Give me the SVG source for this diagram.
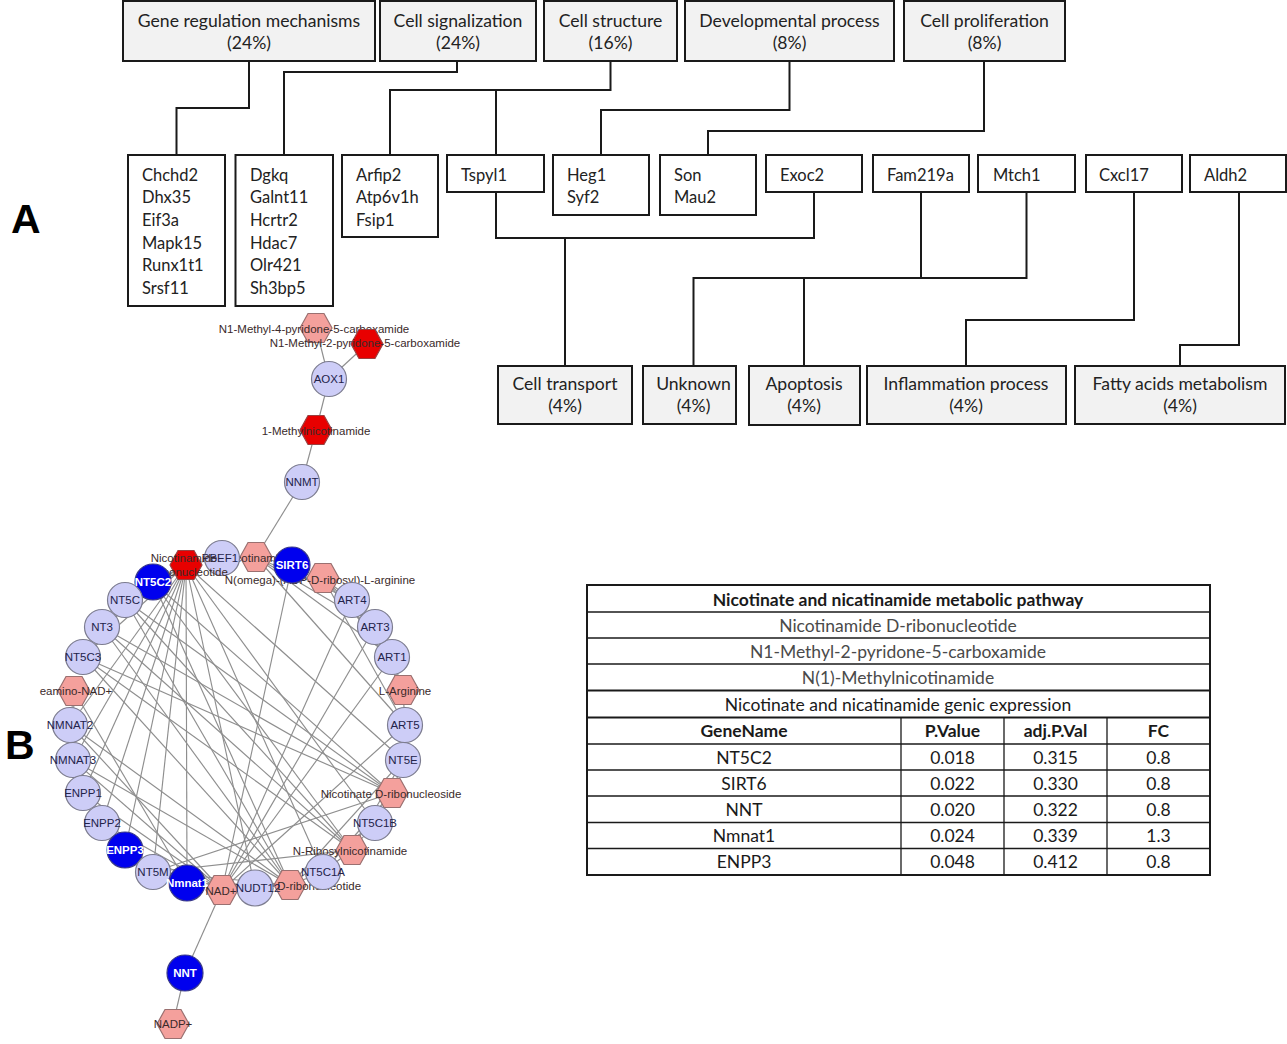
<svg xmlns="http://www.w3.org/2000/svg" xmlns:xlink="http://www.w3.org/1999/xlink" width="1287" height="1044" viewBox="0 0 1287 1044">
<style>
  .cat rect{fill:#f2f2f2;stroke:#1a1a1a;stroke-width:2}
  .gene rect{fill:#ffffff;stroke:#1a1a1a;stroke-width:2}
  .t{font-family:Lato,"Liberation Sans",sans-serif;font-size:16.5px;fill:#222}
  .cat .t{font-size:17.6px}
  .tm{text-anchor:middle}
  .tree path{fill:none;stroke:#1a1a1a;stroke-width:2}
  .panel{font-family:"Liberation Sans",Arial,sans-serif;font-weight:bold;font-size:41px;fill:#000}
  .edges line{stroke:#8e8e8e;stroke-width:1.15}
  .ce{fill:#cdcdf7;stroke:#7d7d90;stroke-width:1.2}
  .cb{fill:#0000ee;stroke:#3a3a8a;stroke-width:1.2}
  .hl{fill:#f4a09c;stroke:#9a7070;stroke-width:1.2}
  .hr{fill:#e80000;stroke:#9a4040;stroke-width:1.2}
  .nl{font-family:"Liberation Sans",Arial,sans-serif;font-size:11.5px;text-anchor:middle;fill:#23234a}
  .nw{font-family:"Liberation Sans",Arial,sans-serif;font-size:11.5px;text-anchor:middle;fill:#ffffff;font-weight:bold}
  .hlab{font-family:"Liberation Sans",Arial,sans-serif;font-size:11.5px;text-anchor:middle;fill:#3a2a2a}
  .tab line{stroke:#1a1a1a;stroke-width:1.3}
  .tab .thick{stroke-width:2}
  .tt{font-family:Lato,"Liberation Sans",sans-serif;font-size:17.5px;text-anchor:middle;fill:#1a1a1a}
  .tg{fill:#4a4a4a}
  .tb{font-weight:bold}
</style>
<defs>
  <polygon id="hex" points="-16,0 -8,-14.5 8,-14.5 16,0 8,14.5 -8,14.5"/>
</defs>

<!-- Panel labels -->
<text class="panel" x="11" y="233">A</text>
<text class="panel" x="5" y="759">B</text>

<!-- Panel A connectors -->
<g id="connectors-A" class="tree">
  <path d="M249,61 V108 H176.5 V155"/>
  <path d="M457,61 V72 H284 V155"/>
  <path d="M610.5,61 V90 H390 V155 M496,90 V155"/>
  <path d="M789.5,61 V110 H601 V155"/>
  <path d="M984,61 V131 H708 V155"/>
  <path d="M496,192 V238 H814 V192 M565,238 V366"/>
  <path d="M921,192 V278 M1026.5,192 V278 H693.5 V366 M804,278 V366"/>
  <path d="M1134,192 V320 H966 V366"/>
  <path d="M1239,192 V345 H1180 V366"/>
</g>

<!-- Category boxes -->
<g id="cat-gene-regulation" class="cat"><rect x="123" y="1" width="252" height="60"/><text class="t tm" x="249" y="21" dy="0.35em">Gene regulation mechanisms</text><text class="t tm" x="249" y="43" dy="0.35em">(24%)</text></g>
<g id="cat-cell-signalization" class="cat"><rect x="380" y="1" width="156" height="60"/><text class="t tm" x="458" y="21" dy="0.35em">Cell signalization</text><text class="t tm" x="458" y="43" dy="0.35em">(24%)</text></g>
<g id="cat-cell-structure" class="cat"><rect x="544" y="1" width="133" height="60"/><text class="t tm" x="610.5" y="21" dy="0.35em">Cell structure</text><text class="t tm" x="610.5" y="43" dy="0.35em">(16%)</text></g>
<g id="cat-developmental" class="cat"><rect x="685" y="1" width="209" height="60"/><text class="t tm" x="789.5" y="21" dy="0.35em">Developmental process</text><text class="t tm" x="789.5" y="43" dy="0.35em">(8%)</text></g>
<g id="cat-cell-proliferation" class="cat"><rect x="904" y="1" width="161" height="60"/><text class="t tm" x="984.5" y="21" dy="0.35em">Cell proliferation</text><text class="t tm" x="984.5" y="43" dy="0.35em">(8%)</text></g>

<!-- Gene boxes -->
<g id="genes-chchd2" class="gene"><rect x="128" y="155" width="97" height="151"/>
  <text class="t" x="142" y="175" dy="0.35em">Chchd2</text><text class="t" x="142" y="197.5" dy="0.35em">Dhx35</text><text class="t" x="142" y="220" dy="0.35em">Eif3a</text><text class="t" x="142" y="243" dy="0.35em">Mapk15</text><text class="t" x="142" y="265.5" dy="0.35em">Runx1t1</text><text class="t" x="142" y="288" dy="0.35em">Srsf11</text></g>
<g id="genes-dgkq" class="gene"><rect x="235.5" y="155" width="97.5" height="151"/>
  <text class="t" x="250" y="175" dy="0.35em">Dgkq</text><text class="t" x="250" y="197.5" dy="0.35em">Galnt11</text><text class="t" x="250" y="220" dy="0.35em">Hcrtr2</text><text class="t" x="250" y="243" dy="0.35em">Hdac7</text><text class="t" x="250" y="265.5" dy="0.35em">Olr421</text><text class="t" x="250" y="288" dy="0.35em">Sh3bp5</text></g>
<g id="genes-arfip2" class="gene"><rect x="342" y="155" width="96" height="82"/>
  <text class="t" x="356" y="175" dy="0.35em">Arfip2</text><text class="t" x="356" y="197.5" dy="0.35em">Atp6v1h</text><text class="t" x="356" y="220" dy="0.35em">Fsip1</text></g>
<g id="genes-tspyl1" class="gene"><rect x="447" y="155" width="97" height="37"/><text class="t" x="461" y="175" dy="0.35em">Tspyl1</text></g>
<g id="genes-heg1" class="gene"><rect x="553" y="155" width="96" height="60"/><text class="t" x="567" y="175" dy="0.35em">Heg1</text><text class="t" x="567" y="197.5" dy="0.35em">Syf2</text></g>
<g id="genes-son" class="gene"><rect x="660" y="155" width="96" height="60"/><text class="t" x="674" y="175" dy="0.35em">Son</text><text class="t" x="674" y="197.5" dy="0.35em">Mau2</text></g>
<g id="genes-exoc2" class="gene"><rect x="766" y="155" width="96" height="37"/><text class="t" x="780" y="175" dy="0.35em">Exoc2</text></g>
<g id="genes-fam219a" class="gene"><rect x="873" y="155" width="96" height="37"/><text class="t" x="887" y="175" dy="0.35em">Fam219a</text></g>
<g id="genes-mtch1" class="gene"><rect x="978" y="155" width="97" height="37"/><text class="t" x="993" y="175" dy="0.35em">Mtch1</text></g>
<g id="genes-cxcl17" class="gene"><rect x="1086" y="155" width="96" height="37"/><text class="t" x="1099" y="175" dy="0.35em">Cxcl17</text></g>
<g id="genes-aldh2" class="gene"><rect x="1190" y="155" width="96" height="37"/><text class="t" x="1204" y="175" dy="0.35em">Aldh2</text></g>

<!-- Bottom category boxes -->
<g id="cat-cell-transport" class="cat"><rect x="498" y="366" width="134" height="58"/><text class="t tm" x="565" y="384" dy="0.35em">Cell transport</text><text class="t tm" x="565" y="406" dy="0.35em">(4%)</text></g>
<g id="cat-unknown" class="cat"><rect x="643" y="366" width="93" height="58"/><text class="t tm" x="693.5" y="384" dy="0.35em">Unknown</text><text class="t tm" x="693.5" y="406" dy="0.35em">(4%)</text></g>
<g id="cat-apoptosis" class="cat"><rect x="749" y="366" width="111" height="59"/><text class="t tm" x="804" y="384" dy="0.35em">Apoptosis</text><text class="t tm" x="804" y="406" dy="0.35em">(4%)</text></g>
<g id="cat-inflammation" class="cat"><rect x="867" y="366" width="199" height="58"/><text class="t tm" x="966" y="384" dy="0.35em">Inflammation process</text><text class="t tm" x="966" y="406" dy="0.35em">(4%)</text></g>
<g id="cat-fatty-acids" class="cat"><rect x="1075" y="366" width="210" height="58"/><text class="t tm" x="1180" y="384" dy="0.35em">Fatty acids metabolism</text><text class="t tm" x="1180" y="406" dy="0.35em">(4%)</text></g>

<!-- Panel B network edges -->
<g id="connectors-B" class="edges">
  <line x1="316" y1="328" x2="329" y2="379"/>
  <line x1="367" y1="344" x2="329" y2="379"/>
  <line x1="329" y1="379" x2="316" y2="430"/>
  <line x1="316" y1="430" x2="302" y2="482"/>
  <line x1="302" y1="482" x2="256" y2="557"/>
  <line x1="222" y1="890" x2="185" y2="973"/>
  <line x1="185" y1="973" x2="173" y2="1024"/>
  <line x1="186" y1="565" x2="153" y2="582"/>
  <line x1="186" y1="565" x2="125" y2="600"/>
  <line x1="186" y1="565" x2="102" y2="627"/>
  <line x1="186" y1="565" x2="83" y2="657"/>
  <line x1="186" y1="565" x2="70" y2="725"/>
  <line x1="186" y1="565" x2="73" y2="760"/>
  <line x1="186" y1="565" x2="83" y2="793"/>
  <line x1="186" y1="565" x2="102" y2="823"/>
  <line x1="186" y1="565" x2="125" y2="850"/>
  <line x1="186" y1="565" x2="153" y2="872"/>
  <line x1="186" y1="565" x2="187" y2="883"/>
  <line x1="186" y1="565" x2="255" y2="888"/>
  <line x1="186" y1="565" x2="323" y2="872"/>
  <line x1="186" y1="565" x2="375" y2="823"/>
  <line x1="186" y1="565" x2="403" y2="760"/>
  <line x1="186" y1="565" x2="222" y2="558"/>
  <line x1="256" y1="557" x2="222" y2="558"/>
  <line x1="256" y1="557" x2="292" y2="565"/>
  <line x1="256" y1="557" x2="392" y2="657"/>
  <line x1="256" y1="557" x2="375" y2="627"/>
  <line x1="256" y1="557" x2="352" y2="600"/>
  <line x1="256" y1="557" x2="405" y2="725"/>
  <line x1="292" y1="565" x2="222" y2="890"/>
  <line x1="222" y1="890" x2="70" y2="725"/>
  <line x1="222" y1="890" x2="73" y2="760"/>
  <line x1="222" y1="890" x2="187" y2="883"/>
  <line x1="222" y1="890" x2="255" y2="888"/>
  <line x1="222" y1="890" x2="83" y2="793"/>
  <line x1="222" y1="890" x2="102" y2="823"/>
  <line x1="222" y1="890" x2="125" y2="850"/>
  <line x1="222" y1="890" x2="392" y2="657"/>
  <line x1="222" y1="890" x2="375" y2="627"/>
  <line x1="222" y1="890" x2="352" y2="600"/>
  <line x1="222" y1="890" x2="405" y2="725"/>
  <line x1="74" y1="691" x2="70" y2="725"/>
  <line x1="74" y1="691" x2="73" y2="760"/>
  <line x1="74" y1="691" x2="187" y2="883"/>
  <line x1="290" y1="885" x2="70" y2="725"/>
  <line x1="290" y1="885" x2="73" y2="760"/>
  <line x1="290" y1="885" x2="187" y2="883"/>
  <line x1="290" y1="885" x2="153" y2="582"/>
  <line x1="290" y1="885" x2="125" y2="600"/>
  <line x1="290" y1="885" x2="102" y2="627"/>
  <line x1="290" y1="885" x2="83" y2="657"/>
  <line x1="290" y1="885" x2="153" y2="872"/>
  <line x1="290" y1="885" x2="403" y2="760"/>
  <line x1="290" y1="885" x2="323" y2="872"/>
  <line x1="290" y1="885" x2="375" y2="823"/>
  <line x1="392" y1="793" x2="153" y2="582"/>
  <line x1="392" y1="793" x2="125" y2="600"/>
  <line x1="392" y1="793" x2="102" y2="627"/>
  <line x1="392" y1="793" x2="83" y2="657"/>
  <line x1="392" y1="793" x2="153" y2="872"/>
  <line x1="392" y1="793" x2="403" y2="760"/>
  <line x1="392" y1="793" x2="323" y2="872"/>
  <line x1="392" y1="793" x2="375" y2="823"/>
  <line x1="352" y1="850" x2="153" y2="582"/>
  <line x1="352" y1="850" x2="125" y2="600"/>
  <line x1="352" y1="850" x2="102" y2="627"/>
  <line x1="352" y1="850" x2="83" y2="657"/>
  <line x1="352" y1="850" x2="153" y2="872"/>
  <line x1="352" y1="850" x2="403" y2="760"/>
  <line x1="352" y1="850" x2="323" y2="872"/>
  <line x1="352" y1="850" x2="375" y2="823"/>
  <line x1="323" y1="578" x2="392" y2="657"/>
  <line x1="323" y1="578" x2="375" y2="627"/>
  <line x1="323" y1="578" x2="352" y2="600"/>
  <line x1="323" y1="578" x2="405" y2="725"/>
  <line x1="403" y1="690" x2="392" y2="657"/>
  <line x1="403" y1="690" x2="375" y2="627"/>
  <line x1="403" y1="690" x2="352" y2="600"/>
  <line x1="403" y1="690" x2="405" y2="725"/>
</g>

<!-- Panel B nodes -->
<g id="n-m4py"><use xlink:href="#hex" x="316" y="328" class="hl"/><text class="hlab" x="314" y="329" dy="0.35em">N1-Methyl-4-pyridone-5-carboxamide</text></g>
<g id="n-m2py"><use xlink:href="#hex" x="367" y="344" class="hr"/><text class="hlab" x="365" y="343" dy="0.35em">N1-Methyl-2-pyridone-5-carboxamide</text></g>
<g id="n-aox1"><circle cx="329" cy="379" r="17.5" class="ce"/><text class="nl" x="329" y="379" dy="0.35em">AOX1</text></g>
<g id="n-mna"><use xlink:href="#hex" x="316" y="430" class="hr"/><text class="hlab" x="316" y="431" dy="0.35em">1-Methylnicotinamide</text></g>
<g id="n-nnmt"><circle cx="302" cy="482" r="17.5" class="ce"/><text class="nl" x="302" y="482" dy="0.35em">NNMT</text></g>

<g id="n-nicotinamide"><use xlink:href="#hex" x="256" y="557" class="hl"/><text class="hlab" x="258" y="558" dy="0.35em">Nicotinamide</text></g>
<g id="n-pbef1"><circle cx="222" cy="558" r="17.5" class="ce"/><text class="nl" x="220" y="558" dy="0.35em">PBEF1</text></g>
<g id="n-nmn"><use xlink:href="#hex" x="186" y="565" class="hr"/><text class="hlab" x="184" y="558" dy="0.35em">Nicotinamide</text><text class="hlab" x="186" y="572" dy="0.35em">D-ribonucleotide</text></g>
<g id="n-nomega"><use xlink:href="#hex" x="323" y="578" class="hl"/><text class="hlab" x="320" y="580" dy="0.35em">N(omega)-(ADP-D-ribosyl)-L-arginine</text></g>
<g id="n-sirt6"><circle cx="292" cy="565" r="18" class="cb"/><text class="nw" x="292" y="565" dy="0.35em">SIRT6</text></g>
<g id="n-nt5c2"><circle cx="153" cy="582" r="18" class="cb"/><text class="nw" x="153" y="582" dy="0.35em">NT5C2</text></g>
<g id="n-nt5c"><circle cx="125" cy="600" r="17.5" class="ce"/><text class="nl" x="125" y="600" dy="0.35em">NT5C</text></g>
<g id="n-nt3"><circle cx="102" cy="627" r="17.5" class="ce"/><text class="nl" x="102" y="627" dy="0.35em">NT3</text></g>
<g id="n-nt5c3"><circle cx="83" cy="657" r="17.5" class="ce"/><text class="nl" x="83" y="657" dy="0.35em">NT5C3</text></g>
<g id="n-deamino-nad"><use xlink:href="#hex" x="74" y="691" class="hl"/><text class="hlab" x="76" y="691" dy="0.35em">eamino-NAD+</text></g>
<g id="n-nmnat2"><circle cx="70" cy="725" r="17.5" class="ce"/><text class="nl" x="70" y="725" dy="0.35em">NMNAT2</text></g>
<g id="n-nmnat3"><circle cx="73" cy="760" r="17.5" class="ce"/><text class="nl" x="73" y="760" dy="0.35em">NMNAT3</text></g>
<g id="n-enpp1"><circle cx="83" cy="793" r="17.5" class="ce"/><text class="nl" x="83" y="793" dy="0.35em">ENPP1</text></g>
<g id="n-enpp2"><circle cx="102" cy="823" r="17.5" class="ce"/><text class="nl" x="102" y="823" dy="0.35em">ENPP2</text></g>
<g id="n-enpp3"><circle cx="125" cy="850" r="18" class="cb"/><text class="nw" x="125" y="850" dy="0.35em">ENPP3</text></g>
<g id="n-nt5m"><circle cx="153" cy="872" r="17.5" class="ce"/><text class="nl" x="153" y="872" dy="0.35em">NT5M</text></g>
<g id="n-namn"><use xlink:href="#hex" x="290" y="885" class="hl"/><text class="hlab" x="292" y="886" dy="0.35em">Nicotinate D-ribonucleotide</text></g>
<g id="n-nmnat1"><circle cx="187" cy="883" r="18" class="cb"/><text class="nw" x="187" y="883" dy="0.35em">Nmnat1</text></g>
<g id="n-nad"><use xlink:href="#hex" x="222" y="890" class="hl"/><text class="hlab" x="221" y="891" dy="0.35em">NAD+</text></g>
<g id="n-nudt12"><circle cx="255" cy="888" r="18" class="ce"/><text class="nl" x="258" y="888" dy="0.35em">NUDT12</text></g>
<g id="n-nr"><use xlink:href="#hex" x="352" y="850" class="hl"/><text class="hlab" x="350" y="851" dy="0.35em">N-Ribosylnicotinamide</text></g>
<g id="n-nt5c1a"><circle cx="323" cy="872" r="17.5" class="ce"/><text class="nl" x="323" y="872" dy="0.35em">NT5C1A</text></g>
<g id="n-nar"><use xlink:href="#hex" x="392" y="793" class="hl"/><text class="hlab" x="391" y="794" dy="0.35em">Nicotinate D-ribonucleoside</text></g>
<g id="n-nt5c1b"><circle cx="375" cy="823" r="17.5" class="ce"/><text class="nl" x="375" y="823" dy="0.35em">NT5C1B</text></g>
<g id="n-nt5e"><circle cx="403" cy="760" r="17.5" class="ce"/><text class="nl" x="403" y="760" dy="0.35em">NT5E</text></g>
<g id="n-art5"><circle cx="405" cy="725" r="17.5" class="ce"/><text class="nl" x="405" y="725" dy="0.35em">ART5</text></g>
<g id="n-larg"><use xlink:href="#hex" x="403" y="690" class="hl"/><text class="hlab" x="405" y="691" dy="0.35em">L-Arginine</text></g>
<g id="n-art1"><circle cx="392" cy="657" r="17.5" class="ce"/><text class="nl" x="392" y="657" dy="0.35em">ART1</text></g>
<g id="n-art3"><circle cx="375" cy="627" r="17.5" class="ce"/><text class="nl" x="375" y="627" dy="0.35em">ART3</text></g>
<g id="n-art4"><circle cx="352" cy="600" r="17.5" class="ce"/><text class="nl" x="352" y="600" dy="0.35em">ART4</text></g>
<g id="n-nnt"><circle cx="185" cy="973" r="18" class="cb"/><text class="nw" x="185" y="973" dy="0.35em">NNT</text></g>
<g id="n-nadp"><use xlink:href="#hex" x="173" y="1024" class="hl"/><text class="hlab" x="173" y="1024" dy="0.35em">NADP+</text></g>

<!-- Table -->
<g id="table" class="tab">
  <rect x="587" y="585" width="623" height="290" fill="#ffffff" stroke="#1a1a1a" stroke-width="2"/>
  <line x1="587" y1="612" x2="1210" y2="612"/>
  <line x1="587" y1="638" x2="1210" y2="638"/>
  <line x1="587" y1="664" x2="1210" y2="664"/>
  <line class="thick" x1="587" y1="690.5" x2="1210" y2="690.5"/>
  <line class="thick" x1="587" y1="717.5" x2="1210" y2="717.5"/>
  <line x1="587" y1="744" x2="1210" y2="744"/>
  <line x1="587" y1="770" x2="1210" y2="770"/>
  <line x1="587" y1="796" x2="1210" y2="796"/>
  <line x1="587" y1="822.5" x2="1210" y2="822.5"/>
  <line x1="587" y1="848.5" x2="1210" y2="848.5"/>
  <line x1="901" y1="717.5" x2="901" y2="875"/>
  <line x1="1004" y1="717.5" x2="1004" y2="875"/>
  <line x1="1107" y1="717.5" x2="1107" y2="875"/>
  <text class="tt tb" x="898" y="600" dy="0.35em">Nicotinate and nicatinamide metabolic pathway</text>
  <text class="tt tg" x="898" y="625.5" dy="0.35em">Nicotinamide D-ribonucleotide</text>
  <text class="tt tg" x="898" y="651.5" dy="0.35em">N1-Methyl-2-pyridone-5-carboxamide</text>
  <text class="tt tg" x="898" y="677.5" dy="0.35em">N(1)-Methylnicotinamide</text>
  <text class="tt" x="898" y="704.5" dy="0.35em">Nicotinate and nicatinamide genic expression</text>
  <text class="tt tb" x="744" y="731" dy="0.35em">GeneName</text>
  <text class="tt tb" x="952.5" y="731" dy="0.35em">P.Value</text>
  <text class="tt tb" x="1055.5" y="731" dy="0.35em">adj.P.Val</text>
  <text class="tt tb" x="1158.5" y="731" dy="0.35em">FC</text>
  <text class="tt" x="744" y="757.5" dy="0.35em">NT5C2</text><text class="tt" x="952.5" y="757.5" dy="0.35em">0.018</text><text class="tt" x="1055.5" y="757.5" dy="0.35em">0.315</text><text class="tt" x="1158.5" y="757.5" dy="0.35em">0.8</text>
  <text class="tt" x="744" y="783.5" dy="0.35em">SIRT6</text><text class="tt" x="952.5" y="783.5" dy="0.35em">0.022</text><text class="tt" x="1055.5" y="783.5" dy="0.35em">0.330</text><text class="tt" x="1158.5" y="783.5" dy="0.35em">0.8</text>
  <text class="tt" x="744" y="809.5" dy="0.35em">NNT</text><text class="tt" x="952.5" y="809.5" dy="0.35em">0.020</text><text class="tt" x="1055.5" y="809.5" dy="0.35em">0.322</text><text class="tt" x="1158.5" y="809.5" dy="0.35em">0.8</text>
  <text class="tt" x="744" y="835.5" dy="0.35em">Nmnat1</text><text class="tt" x="952.5" y="835.5" dy="0.35em">0.024</text><text class="tt" x="1055.5" y="835.5" dy="0.35em">0.339</text><text class="tt" x="1158.5" y="835.5" dy="0.35em">1.3</text>
  <text class="tt" x="744" y="861.5" dy="0.35em">ENPP3</text><text class="tt" x="952.5" y="861.5" dy="0.35em">0.048</text><text class="tt" x="1055.5" y="861.5" dy="0.35em">0.412</text><text class="tt" x="1158.5" y="861.5" dy="0.35em">0.8</text>
</g>
</svg>
